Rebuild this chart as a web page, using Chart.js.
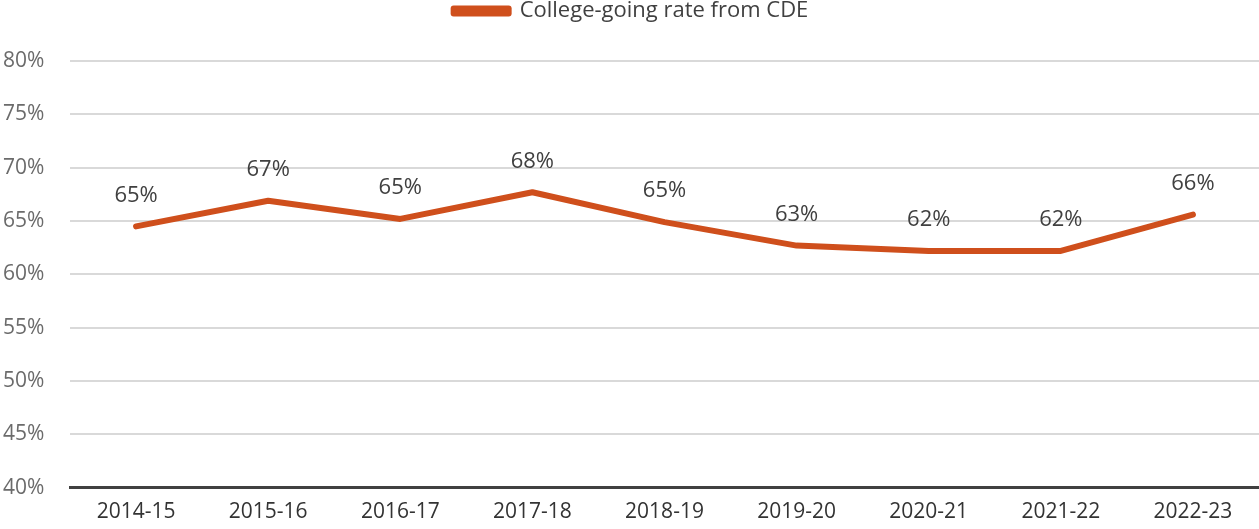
<!DOCTYPE html>
<html>
<head>
<meta charset="utf-8">
<script src="https://cdn.jsdelivr.net/npm/chart.js@4"></script>
<style>
  html, body { margin: 0; padding: 0; background: #fff; }
  #wrap { width: 1259px; height: 529px; }
</style>
</head>
<body>
<div id="wrap"><canvas id="chartRate"></canvas></div>
<script>
const years = ['2014-15', '2015-16', '2016-17', '2017-18', '2018-19', '2019-20', '2020-21', '2021-22', '2022-23'];
const rates = [64.5, 66.9, 65.2, 67.7, 64.9, 62.7, 62.2, 62.2, 65.6];
const rateLabels = ['65%', '67%', '65%', '68%', '65%', '63%', '62%', '62%', '66%'];
const yTicks = [40, 45, 50, 55, 60, 65, 70, 75, 80];

const fonte = '"Open Sans", Lato, sans-serif';

// etiquetas sobre cada ponto
const pointLabels = {
    id: 'pointLabels',
    afterDatasetsDraw(chart) {
        const meta = chart.getDatasetMeta(0);
        const c = chart.ctx;
        c.save();
        c.font = '22px ' + fonte;
        c.fillStyle = '#404040';
        c.textAlign = 'center';
        c.textBaseline = 'middle';
        meta.data.forEach((pt, i) => {
            c.fillText(rateLabels[i], pt.x, pt.y - 31);
        });
        c.restore();
    }
};

// espaco extra abaixo da legenda
const legendMargin = {
    id: 'legendMargin',
    beforeInit(chart) {
        const fitOrig = chart.legend.fit;
        chart.legend.fit = function() {
            fitOrig.bind(chart.legend)();
            this.height += 29;
        };
    }
};

new Chart(document.getElementById('chartRate'), {
    type: 'line',
    data: {
        labels: years,
        datasets: [{
            label: 'College-going rate from CDE',
            data: rates,
            borderColor: '#CF4F1C',
            backgroundColor: '#CF4F1C',
            borderWidth: 6,
            borderCapStyle: 'round',
            borderJoinStyle: 'round',
            pointRadius: 0,
            tension: 0
        }]
    },
    options: {
        responsive: true,
        maintainAspectRatio: false,
        animation: false,
        layout: { padding: { left: 3, right: 0, top: 0, bottom: 0 } },
        plugins: {
            legend: {
                display: true,
                position: 'top',
                labels: {
                    boxWidth: 55,
                    boxHeight: 5,
                    color: '#404040',
                    font: { size: 22, family: fonte },
                    padding: 0
                }
            },
            tooltip: { enabled: false }
        },
        scales: {
            x: {
                offset: true,
                grid: { display: false },
                border: { color: '#404040', width: 3 },
                ticks: {
                    color: '#333333',
                    font: { size: 21, family: fonte },
                    padding: 4,
                    maxRotation: 0
                }
            },
            y: {
                min: 40,
                max: 80,
                afterBuildTicks(axis) {
                    axis.ticks = yTicks.map(v => ({ value: v }));
                },
                afterFit(axis) {
                    axis.width = 67;
                },
                grid: { color: '#d9d9d9', lineWidth: 2, drawTicks: false },
                border: { display: false },
                ticks: {
                    color: '#6b6b6b',
                    font: { size: 21, family: fonte },
                    crossAlign: 'far',
                    padding: 18,
                    callback: v => v + '%'
                }
            }
        }
    },
    plugins: [pointLabels, legendMargin]
});
</script>
</body>
</html>
